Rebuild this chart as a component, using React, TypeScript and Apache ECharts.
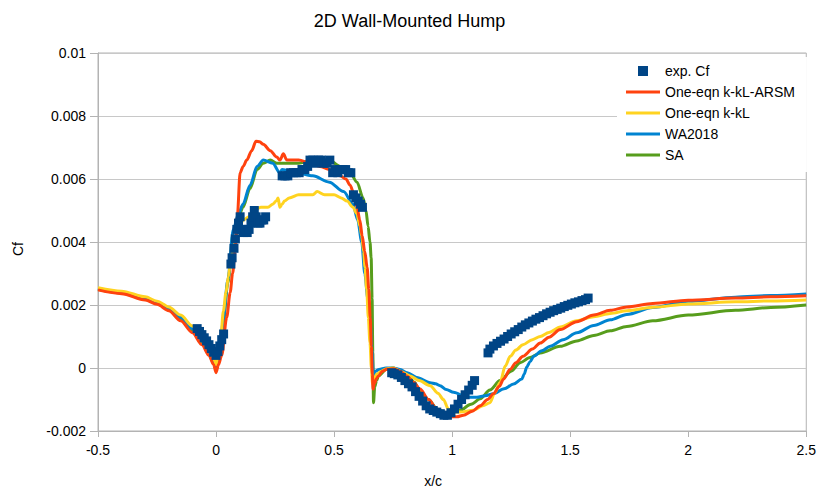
import { useEffect, useRef } from "react";
import * as echarts from "echarts";

// Experimental skin-friction coefficient
const expX = [
  -0.08, -0.07, -0.06, -0.05, -0.04, -0.03, -0.02, -0.01, 0.0, 0.008, 0.016, 0.024, 0.032,
  0.063, 0.068, 0.076, 0.082, 0.088, 0.095, 0.102, 0.108, 0.116, 0.124, 0.132, 0.14, 0.148, 0.155,
  0.162, 0.17, 0.178, 0.186, 0.194, 0.202, 0.21,
  0.28, 0.292, 0.304, 0.316, 0.328, 0.34, 0.352, 0.364, 0.376, 0.388, 0.398, 0.41, 0.422, 0.434,
  0.446, 0.458, 0.47, 0.482, 0.494, 0.505, 0.516, 0.527, 0.538, 0.549, 0.56, 0.571, 0.582, 0.592,
  0.602, 0.612, 0.62,
  0.744, 0.755, 0.77, 0.785, 0.8, 0.815, 0.83, 0.845, 0.86, 0.875, 0.89, 0.905, 0.92, 0.935, 0.95,
  0.965, 0.98, 0.995, 1.01, 1.025, 1.04, 1.055, 1.07, 1.085, 1.095,
  1.152, 1.16, 1.175, 1.19, 1.205, 1.22, 1.235, 1.25, 1.265, 1.28, 1.295, 1.31, 1.325, 1.34, 1.355,
  1.37, 1.385, 1.4, 1.415, 1.43, 1.445, 1.46, 1.475, 1.49, 1.505, 1.52, 1.535, 1.55, 1.565, 1.576,
];
const expCf = [
  0.00125, 0.00116, 0.00106, 0.00096, 0.00086, 0.00074, 0.00062, 0.0005, 0.0004, 0.00052, 0.0007, 0.0009, 0.00108,
  0.0033, 0.0035, 0.0038, 0.0041, 0.0044, 0.0046, 0.0048, 0.0044, 0.0043, 0.0044, 0.0043, 0.0044, 0.0046, 0.0048,
  0.005, 0.0048, 0.0046, 0.0046, 0.0047, 0.0047, 0.0048,
  0.0061, 0.0061, 0.0061, 0.0062, 0.0062, 0.0062, 0.0062, 0.0063, 0.0063, 0.0064, 0.0066, 0.0066, 0.0065, 0.0066,
  0.0066, 0.0065, 0.0065, 0.0066, 0.0062, 0.0063, 0.0062, 0.0063, 0.0063, 0.0063, 0.0062, 0.0062, 0.0055, 0.0054,
  0.0053, 0.0052, 0.0051,
  -0.00015, -0.00018, -0.00022, -0.0003, -0.0004, -0.0005, -0.0006, -0.00075, -0.0009, -0.00105, -0.0012, -0.0013,
  -0.00135, -0.0014, -0.00145, -0.0015, -0.0015, -0.00142, -0.0013, -0.00115, -0.001, -0.00085, -0.0007, -0.00055, -0.0004,
  0.00048, 0.0006, 0.0007, 0.00078, 0.00085, 0.00092, 0.001, 0.00108, 0.00115, 0.00122, 0.0013, 0.00137, 0.00143,
  0.00149, 0.00155, 0.0016, 0.00166, 0.00172, 0.00177, 0.00182, 0.00186, 0.0019, 0.00195, 0.00199, 0.00203, 0.00207,
  0.0021, 0.00214, 0.00217, 0.00222,
];

// One-eqn k-kL-ARSM
const arsmX = [
  -0.5, -0.4, -0.3, -0.25, -0.2, -0.15, -0.1, -0.06, -0.03, -0.01, 0, 0.01, 0.024, 0.045, 0.06, 0.07, 0.081, 0.09,
  0.102, 0.115, 0.13, 0.151, 0.169, 0.185, 0.2, 0.23, 0.257, 0.271, 0.285, 0.3, 0.35, 0.4, 0.44, 0.48, 0.525,
  0.55, 0.568, 0.585, 0.597, 0.609, 0.619, 0.63, 0.64, 0.647, 0.653, 0.658, 0.662, 0.665, 0.67, 0.68, 0.688,
  0.705, 0.723, 0.751, 0.78, 0.808, 0.836, 0.864, 0.9, 0.935, 0.965, 0.992, 1.02, 1.048, 1.085, 1.119, 1.15,
  1.175, 1.2, 1.218, 1.246, 1.27, 1.3, 1.34, 1.373, 1.41, 1.458, 1.528, 1.6, 1.67, 1.74, 1.85, 2.0, 2.2, 2.35, 2.5,
];
const arsmCf = [
  0.00248, 0.00236, 0.00216, 0.00202, 0.00182, 0.0015, 0.00112, 0.00074, 0.0004, 0.0001, -0.00015, 0.0001, 0.0004,
  0.0016, 0.0024, 0.003, 0.0037, 0.0048, 0.0062, 0.0064, 0.0066, 0.0069, 0.0072, 0.00718, 0.0071, 0.0069, 0.0067,
  0.0066, 0.0068, 0.0066, 0.0066, 0.0065, 0.0064, 0.0063, 0.0061, 0.006, 0.0058, 0.0055, 0.0051, 0.0047, 0.0042,
  0.0037, 0.0032, 0.0025, 0.0016, 0.0007, -0.0002, -0.00067, -0.0005, -0.00033, -0.00025, -0.0001, -0.00004,
  -0.00002, -0.0001, -0.00025, -0.00045, -0.00067, -0.001, -0.0013, -0.00145, -0.00155, -0.00155, -0.0015,
  -0.00137, -0.0012, -0.001, -0.00082, -0.00058, -0.00035, -0.00004, 0.00017, 0.00037, 0.0006, 0.00079, 0.00098,
  0.00122, 0.00147, 0.00168, 0.00183, 0.00194, 0.00205, 0.00215, 0.00222, 0.00226, 0.00229,
];

// One-eqn k-kL
const kklX = [
  -0.5, -0.4, -0.3, -0.25, -0.2, -0.15, -0.1, -0.06, -0.03, -0.01, 0, 0.01, 0.02, 0.031, 0.042, 0.052, 0.062, 0.075,
  0.095, 0.115, 0.14, 0.16, 0.19, 0.22, 0.24, 0.255, 0.263, 0.27, 0.28, 0.29, 0.31, 0.35, 0.41, 0.428, 0.46, 0.5,
  0.53, 0.555, 0.58, 0.596, 0.61, 0.617, 0.625, 0.631, 0.638, 0.645, 0.652, 0.658, 0.663, 0.668, 0.68, 0.7, 0.725,
  0.751, 0.78, 0.822, 0.86, 0.907, 0.94, 0.963, 0.984, 1.0, 1.034, 1.09, 1.13, 1.16, 1.18, 1.203, 1.225, 1.246,
  1.27, 1.3, 1.34, 1.373, 1.41, 1.458, 1.528, 1.6, 1.67, 1.74, 1.85, 2.0, 2.2, 2.35, 2.5,
];
const kklCf = [
  0.00255, 0.00244, 0.00226, 0.00212, 0.00194, 0.00168, 0.00133, 0.00096, 0.0006, 0.0003, 0.0001, 0.0004, 0.001,
  0.0018, 0.0024, 0.0029, 0.0034, 0.0039, 0.0044, 0.0047, 0.0048, 0.005, 0.0051, 0.0051, 0.0052, 0.0053, 0.0054,
  0.0051, 0.0052, 0.0053, 0.0054, 0.0055, 0.0055, 0.0056, 0.0055, 0.0055, 0.0054, 0.0053, 0.0051, 0.0049, 0.0045,
  0.0042, 0.0037, 0.0032, 0.0025, 0.0016, 0.0008, 0.0, -0.0005, -0.0004, -0.0002, -0.0001, -0.00002, 0.0, -0.0001,
  -0.00025, -0.0004, -0.00056, -0.0008, -0.001, -0.0013, -0.0014, -0.0014, -0.00134, -0.0012, -0.0011, -0.0008,
  -0.00046, 0.00006, 0.00037, 0.00057, 0.00074, 0.0009, 0.001, 0.00113, 0.0013, 0.0015, 0.00163, 0.00173,
  0.00182, 0.00193, 0.00203, 0.0021, 0.00213, 0.00216,
];

// WA2018
const waX = [
  -0.5, -0.4, -0.3, -0.25, -0.2, -0.15, -0.1, -0.06, -0.03, -0.01, 0, 0.01, 0.02, 0.03, 0.05, 0.073, 0.095, 0.114,
  0.144, 0.174, 0.2, 0.24, 0.27, 0.28, 0.34, 0.41, 0.48, 0.54, 0.58, 0.6, 0.617, 0.63, 0.643, 0.653, 0.66, 0.667,
  0.675, 0.69, 0.72, 0.75, 0.78, 0.81, 0.85, 0.907, 0.93, 0.949, 0.975, 1.006, 1.062, 1.105, 1.14, 1.175, 1.22,
  1.26, 1.295, 1.305, 1.316, 1.33, 1.345, 1.38, 1.415, 1.47, 1.528, 1.6, 1.67, 1.74, 1.85, 2.0, 2.2, 2.35, 2.5,
];
const waCf = [
  0.00252, 0.0024, 0.00221, 0.00207, 0.00188, 0.00161, 0.00125, 0.00086, 0.0005, 0.00018, 0.00003, 0.0003, 0.0008,
  0.0015, 0.0028, 0.0044, 0.0049, 0.0052, 0.0058, 0.0064, 0.0066, 0.0065, 0.0062, 0.0063, 0.0062, 0.0061, 0.0059,
  0.0056, 0.0052, 0.0047, 0.004, 0.003, 0.0022, 0.0015, 0.0006, -0.0003, -0.0001, -0.00005, 0.0, 0.0, -0.00005,
  -0.00015, -0.0003, -0.00047, -0.0005, -0.00056, -0.00068, -0.00077, -0.00093, -0.00093, -0.00088, -0.00082,
  -0.00066, -0.00051, -0.00035, -0.0002, 0.00003, 0.0002, 0.00037, 0.00055, 0.00069, 0.0009, 0.00112, 0.00135,
  0.00153, 0.0017, 0.00192, 0.00212, 0.00225, 0.0023, 0.00235,
];

// SA
const saX = [
  -0.5, -0.4, -0.3, -0.25, -0.2, -0.15, -0.1, -0.06, -0.03, -0.01, 0, 0.01, 0.02, 0.03, 0.05, 0.073, 0.095, 0.114,
  0.144, 0.174, 0.2, 0.23, 0.258, 0.3, 0.35, 0.41, 0.48, 0.525, 0.568, 0.597, 0.623, 0.635, 0.644, 0.652, 0.657,
  0.661, 0.664, 0.667, 0.672, 0.68, 0.688, 0.72, 0.75, 0.78, 0.81, 0.84, 0.864, 0.9, 0.936, 0.98, 1.034, 1.08,
  1.119, 1.16, 1.203, 1.25, 1.288, 1.33, 1.373, 1.458, 1.528, 1.6, 1.67, 1.74, 1.85, 2.0, 2.2, 2.35, 2.5,
];
const saCf = [
  0.0025, 0.00238, 0.00219, 0.00205, 0.00185, 0.00157, 0.0012, 0.00081, 0.00045, 0.00013, 0.0, 0.00025, 0.0008,
  0.0014, 0.0027, 0.0043, 0.0048, 0.0051, 0.0057, 0.0063, 0.0065, 0.0066, 0.0065, 0.0065, 0.0065, 0.0066, 0.0066,
  0.0064, 0.0062, 0.0059, 0.0054, 0.005, 0.0045, 0.004, 0.0035, 0.0022, 0.0005, -0.0011, -0.0006, -0.0004, -0.00025,
  -0.00005, 0.0, -0.00008, -0.0002, -0.00045, -0.00075, -0.001, -0.0013, -0.00145, -0.00134, -0.00115, -0.00098,
  -0.0007, -0.0004, -0.0001, 0.00017, 0.00033, 0.00048, 0.00069, 0.00086, 0.00103, 0.00118, 0.00132, 0.0015,
  0.00168, 0.00183, 0.00192, 0.002,
];

const xTicks = { min: -0.5, max: 2.5, step: 0.5 };
const yTicks = { min: -0.002, max: 0.01, step: 0.002 };

const FONT = "'Liberation Sans', Arial, sans-serif";
const SQUARE_ICON = "path://M0,0H10V10H0Z";
const LINE_ICON = "path://M0,0H34V3H0Z";

function zip(xs: number[], ys: number[]) {
  return xs.map((x, i) => [x, ys[i]]);
}

function lineSeries(name: string, color: string, xs: number[], ys: number[], z: number) {
  return {
    name,
    type: "line",
    data: zip(xs, ys),
    symbol: "none",
    showSymbol: false,
    smooth: 0.3,
    smoothMonotone: "x",
    color,
    lineStyle: { color, width: 3 },
    z,
  };
}

export default function App() {
  const ref = useRef<HTMLDivElement>(null);

  useEffect(() => {
    if (!ref.current) return;
    const chart = echarts.init(ref.current, null, { renderer: "svg" });
    const axisGray = "#b3b3b3";
    chart.setOption({
      animation: false,
      backgroundColor: "#ffffff",
      textStyle: { fontFamily: FONT },
      title: {
        text: "2D Wall-Mounted Hump",
        left: "center",
        top: 7,
        textStyle: { fontFamily: FONT, fontSize: 18, fontWeight: "normal", color: "#000" },
      },
      grid: {
        left: 98,
        right: 12,
        top: 53,
        bottom: 57,
        show: true,
        borderColor: axisGray,
        borderWidth: 1,
      },
      legend: {
        orient: "vertical",
        left: 617,
        top: 57,
        padding: [7, 12, 10, 9],
        backgroundColor: "#ffffff",
        itemWidth: 34,
        itemHeight: 10,
        itemGap: 7,
        selectedMode: false,
        itemStyle: { borderWidth: 0 },
        textStyle: { fontFamily: FONT, fontSize: 14, lineHeight: 14, color: "#000" },
        data: [
          { name: "exp. Cf", icon: SQUARE_ICON },
          { name: "One-eqn k-kL-ARSM", icon: LINE_ICON },
          { name: "One-eqn k-kL", icon: LINE_ICON },
          { name: "WA2018", icon: LINE_ICON },
          { name: "SA", icon: LINE_ICON },
        ],
      },
      xAxis: {
        type: "value",
        min: xTicks.min,
        max: xTicks.max,
        interval: xTicks.step,
        name: "x/c",
        nameLocation: "middle",
        nameGap: 43,
        nameTextStyle: { fontFamily: FONT, fontSize: 14, color: "#000", padding: [0, 38, 0, 0] },
        axisLine: { show: true, onZero: false, lineStyle: { color: axisGray } },
        axisTick: { show: true, length: 6, lineStyle: { color: axisGray } },
        axisLabel: {
          fontFamily: FONT,
          fontSize: 14,
          color: "#000",
          margin: 12,
          formatter: (v: number) => String(+v.toFixed(2)),
        },
        splitLine: { show: false },
      },
      yAxis: {
        type: "value",
        min: yTicks.min,
        max: yTicks.max,
        interval: yTicks.step,
        name: "Cf",
        nameLocation: "middle",
        nameGap: 73,
        nameTextStyle: { fontFamily: FONT, fontSize: 14, color: "#000", padding: [0, 14, 0, 0] },
        axisLine: { show: true, onZero: false, lineStyle: { color: axisGray } },
        axisTick: { show: true, length: 8, lineStyle: { color: axisGray } },
        axisLabel: {
          fontFamily: FONT,
          fontSize: 14,
          color: "#000",
          margin: 12,
          formatter: (v: number) => String(+v.toFixed(3)),
        },
        splitLine: { show: true, lineStyle: { color: "#c8c8c8", width: 1 } },
      },
      series: [
        lineSeries("One-eqn k-kL-ARSM", "#ff420e", arsmX, arsmCf, 5),
        lineSeries("One-eqn k-kL", "#ffd320", kklX, kklCf, 4),
        lineSeries("WA2018", "#0084d1", waX, waCf, 3),
        lineSeries("SA", "#579d1c", saX, saCf, 2),
        {
          name: "exp. Cf",
          type: "scatter",
          data: zip(expX, expCf),
          symbol: "rect",
          symbolSize: 9,
          color: "#004586",
          itemStyle: { color: "#004586", opacity: 1 },
          z: 6,
        },
      ],
    });
    return () => chart.dispose();
  }, []);

  return (
    <div
      ref={ref}
      style={{ position: "fixed", left: 0, top: 0, width: 819, height: 493, background: "#fff" }}
    />
  );
}
